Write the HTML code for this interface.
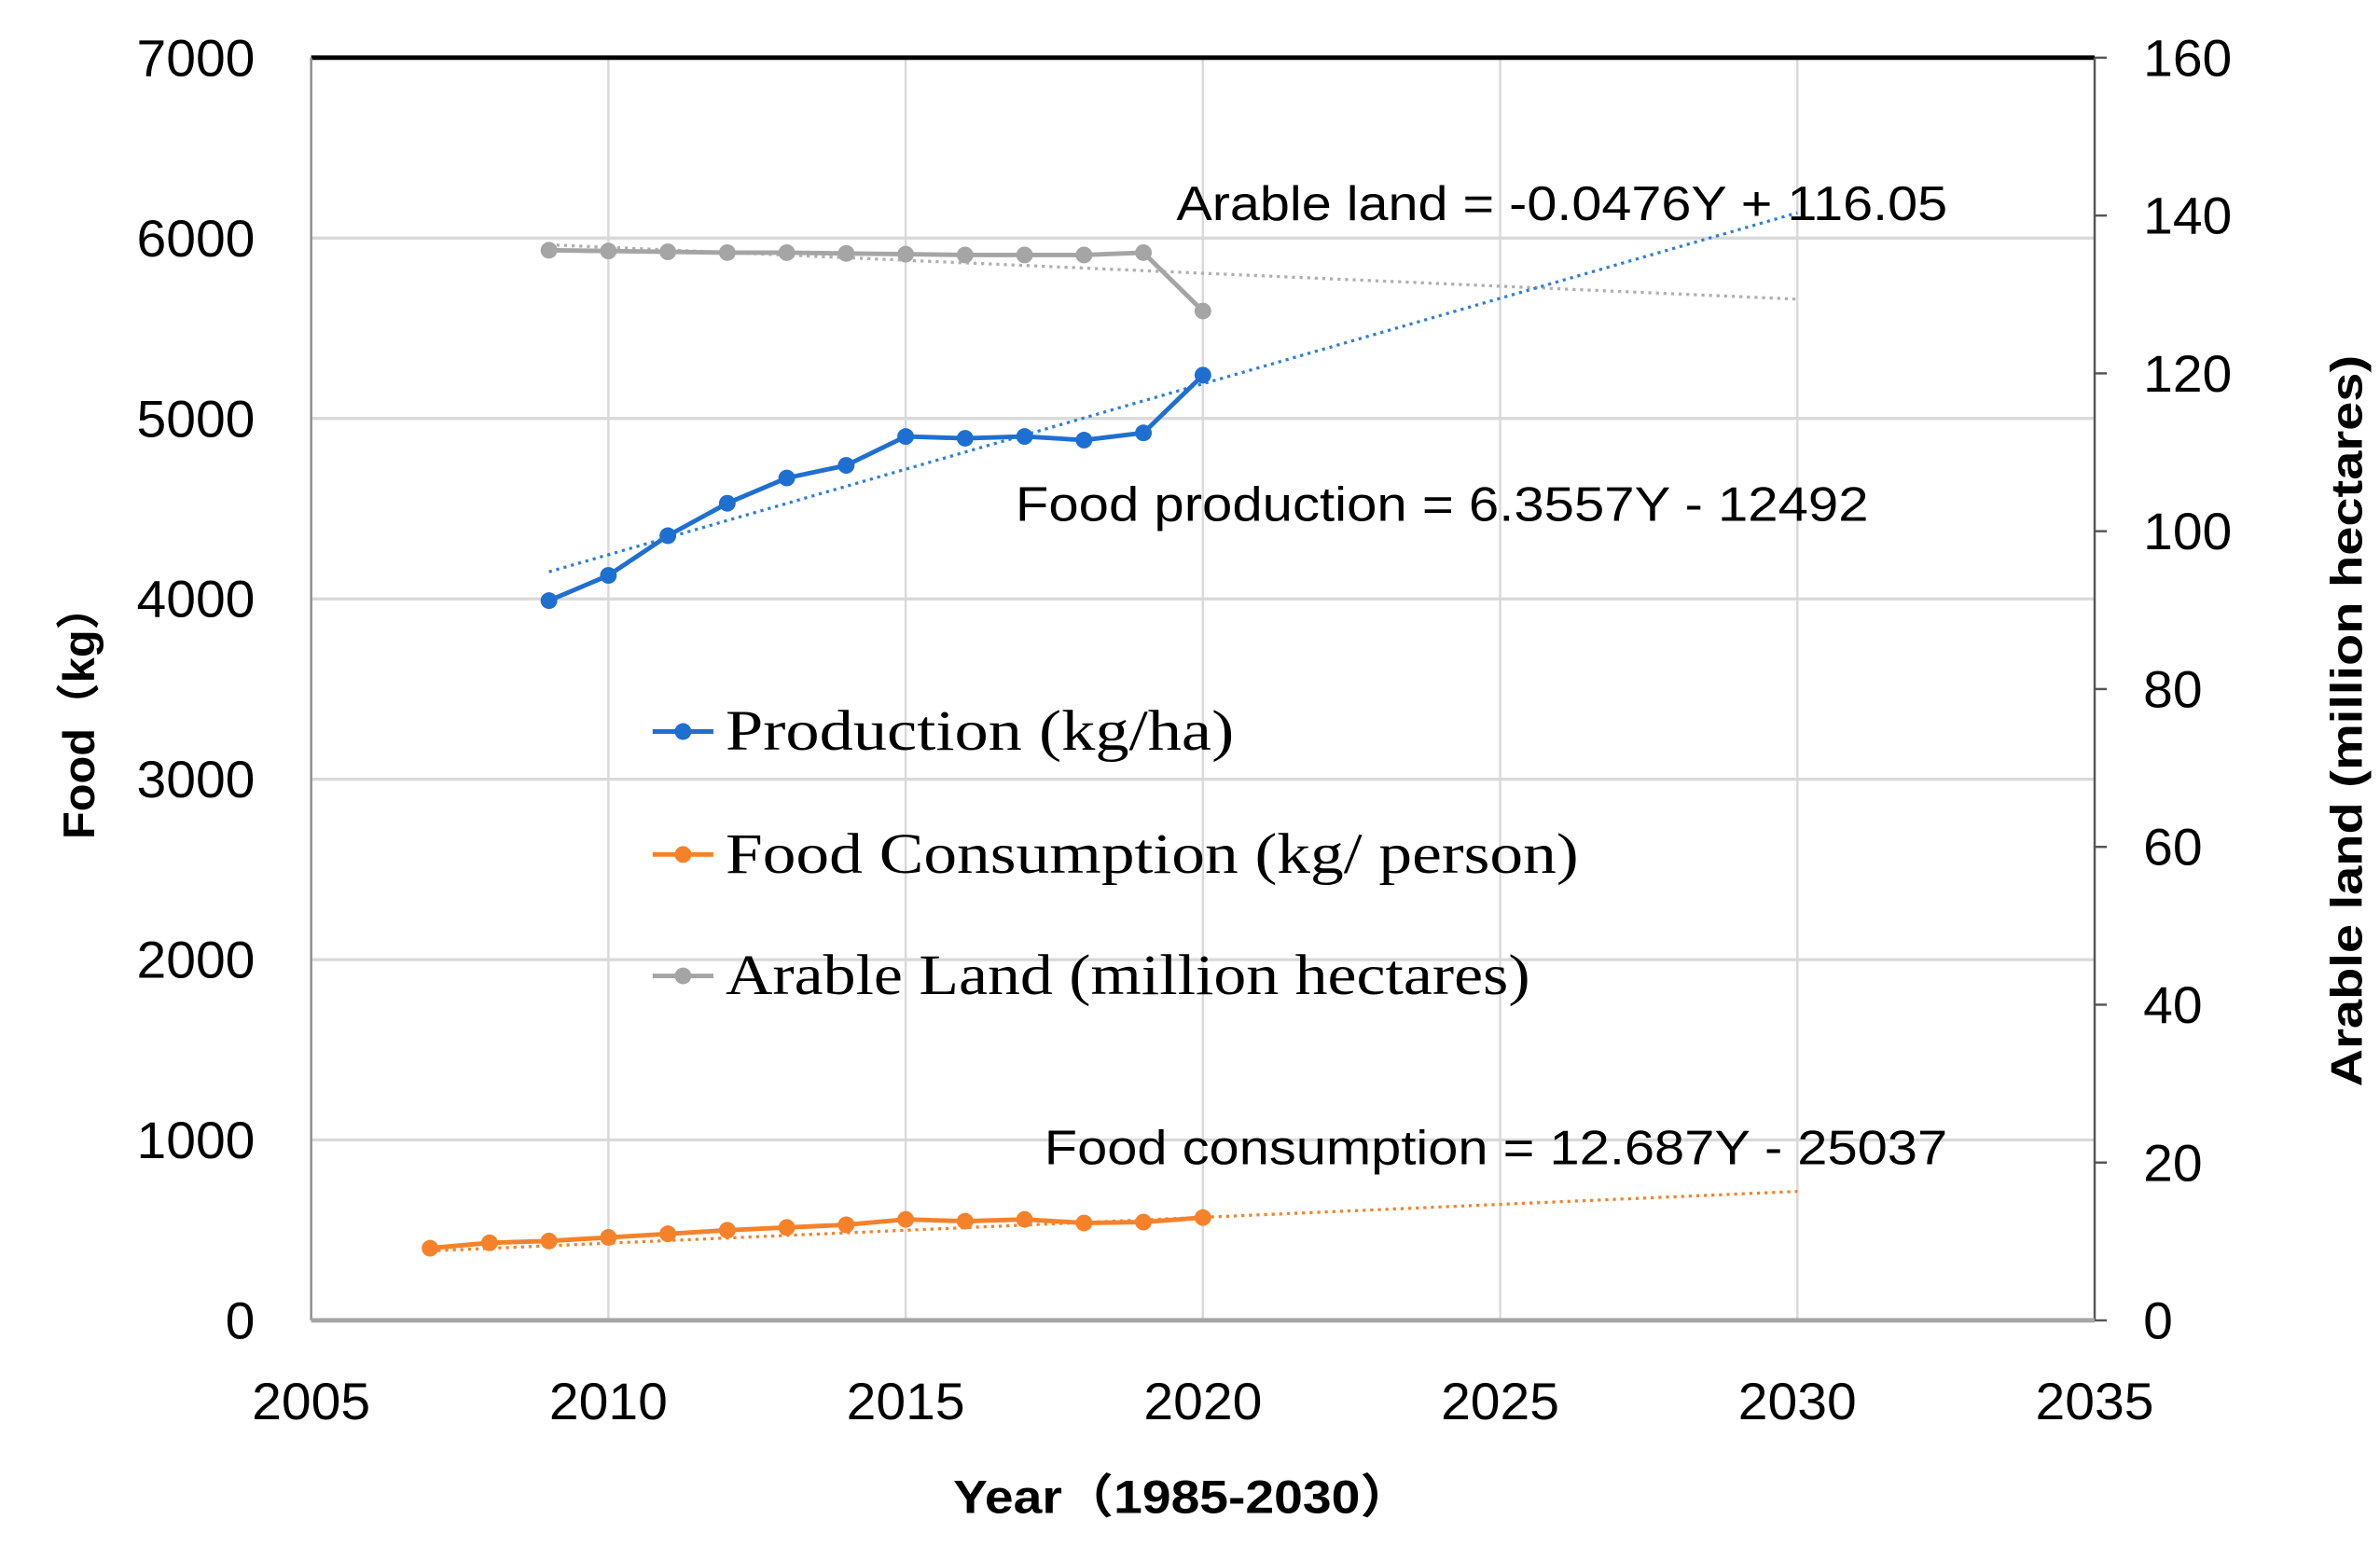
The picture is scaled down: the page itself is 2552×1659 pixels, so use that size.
<!DOCTYPE html>
<html><head><meta charset="utf-8"><style>
html,body{margin:0;padding:0;background:#fff;}
svg{display:block;}
</style></head><body>
<svg id="chart" width="2552" height="1659" viewBox="0 0 1568 1019.3" xmlns="http://www.w3.org/2000/svg"></svg>
<script>
const xTicks = [2005, 2010, 2015, 2020, 2025, 2030, 2035];
const yLeftTicks = [0, 1000, 2000, 3000, 4000, 5000, 6000, 7000];
const yRightTicks = [0, 20, 40, 60, 80, 100, 120, 140, 160];
const prodYears = [2009,2010,2011,2012,2013,2014,2015,2016,2017,2018,2019,2020];
const prodValues = [3990,4130,4350,4530,4670,4740,4900,4890,4900,4880,4920,5240];
const consYears = [2007,2008,2009,2010,2011,2012,2013,2014,2015,2016,2017,2018,2019,2020];
const consValues = [400,430,440,460,480,500,515,530,560,550,560,540,545,570];
const landYears = [2009,2010,2011,2012,2013,2014,2015,2016,2017,2018,2019,2020];
const landValues = [135.6,135.5,135.4,135.3,135.3,135.2,135.1,135.0,135.0,135.0,135.3,127.9];
const prodTrendYears = [2009, 2030];
const prodTrendValues = [4150, 6140];
const consTrendYears = [2007, 2030];
const consTrendValues = [385, 715];
const landTrendYears = [2009, 2030];
const landTrendValues = [136.3, 129.4];

const L=205,R=1380,T=38,B=870;
const xs = v => L + (v-2005)/30*(R-L);
const yl = v => B - v/7000*(B-T);
const yr = v => B - v/160*(B-T);
const svg = document.getElementById('chart');
const NS='http://www.w3.org/2000/svg';
function mk(tag, attrs, parent){const e=document.createElementNS(NS,tag);for(const k in attrs)e.setAttribute(k,attrs[k]);(parent||svg).appendChild(e);return e;}
const F='"Liberation Sans", "Noto Sans CJK SC", sans-serif';

xTicks.forEach(t=>{ if(t===2005||t===2035) return;
  const g=mk('line',{x1:xs(t),x2:xs(t),y1:T,y2:B,stroke:'#d9d9d9','stroke-width':1.5});
  
  
});
yLeftTicks.forEach(t=>{ if(t===0||t===7000) return;
  const g=mk('line',{x1:L,x2:R,y1:yl(t),y2:yl(t),stroke:'#d9d9d9','stroke-width':2});
  
  
});
let a=mk('line',{x1:L,x2:R,y1:T,y2:T,stroke:'#000','stroke-width':3});


a=mk('line',{x1:L,x2:L,y1:T,y2:B,stroke:'#8c8c8c','stroke-width':1.5});


a=mk('line',{x1:R,x2:R,y1:T,y2:B,stroke:'#555','stroke-width':1.5});


a=mk('line',{x1:L,x2:R,y1:B,y2:B,stroke:'#a6a6a6','stroke-width':3});


for(let i=0;i<yRightTicks.length;i++){const t=mk('line',{x1:R,x2:R+8,y1:yr(yRightTicks[i]),y2:yr(yRightTicks[i]),stroke:'#555','stroke-width':1.5});
  
  }

function fit(e,txt,w){e.textContent=txt;e.setAttribute('textLength',w);e.setAttribute('lengthAdjust','spacingAndGlyphs');}
xTicks.forEach(t=>{const e=mk('text',{x:xs(t),y:935,'text-anchor':'middle','font-family':F,'font-size':34,fill:'#000'});fit(e,String(t),78);
  
  });
yLeftTicks.forEach(t=>{const e=mk('text',{x:168,y:yl(t)+12,'text-anchor':'end','font-family':F,'font-size':34,fill:'#000'});fit(e,String(t),String(t).length*19.5);
  
  });
yRightTicks.forEach(t=>{const e=mk('text',{x:1412,y:yr(t)+12,'text-anchor':'start','font-family':F,'font-size':34,fill:'#000'});fit(e,String(t),String(t).length*19.5);
  
  });

let tt=mk('text',{x:628,y:997,'font-family':F,'font-size':31,'font-weight':'bold'});fit(tt,'Year（1985-2030）',302);


tt=mk('text',{x:0,y:0,'font-family':F,'font-size':29,'font-weight':'bold',transform:'translate(62,553) rotate(-90)'});fit(tt,'Food（kg）',168);


tt=mk('text',{x:0,y:0,'font-family':F,'font-size':29,'font-weight':'bold',transform:'translate(1556,716) rotate(-90)'});fit(tt,'Arable land (million hectares)',482);



function trend(years, vals, yf, color, name){
  const l=mk('line',{x1:xs(years[0]),y1:yf(vals[0]),x2:xs(years[1]),y2:yf(vals[1]),stroke:color,'stroke-width':2,'stroke-dasharray':'2 3'});
  
  
}
trend(landTrendYears,landTrendValues,yr,'#b0b0b0','arable-trendline');
trend(prodTrendYears,prodTrendValues,yl,'#2f7ed8','production-trendline');
trend(consTrendYears,consTrendValues,yl,'#f5822a','consumption-trendline');

function series(years, vals, yf, color, name){
  const pts=years.map((y,i)=>[xs(y),yf(vals[i])]);
  const p=mk('polyline',{points:pts.map(p=>p.join(',')).join(' '),fill:'none',stroke:color,'stroke-width':3,'stroke-linejoin':'round'});
  
  
  pts.forEach(pt=>{const c=mk('circle',{cx:pt[0],cy:pt[1],r:5.5,fill:color});
    
    });
}
series(landYears,landValues,yr,'#a5a5a5','arable-land');
series(prodYears,prodValues,yl,'#1f6fd1','production');
series(consYears,consValues,yl,'#f5822a','consumption');

function label(x,y,txt,w,name){const e=mk('text',{x:x,y:y,'font-family':F,'font-size':32,fill:'#000'});fit(e,txt,w);
  
  }
label(775,145,'Arable land = -0.0476Y + 116.05',508,'arable-equation');
label(669,343,'Food production = 6.3557Y - 12492',562,'production-equation');
label(688,767,'Food consumption = 12.687Y - 25037',595,'consumption-equation');

const legItems=[['Production (kg/ha)',335,'#1f6fd1',482],['Food Consumption (kg/ person)',562,'#f5822a',563],['Arable Land (million hectares)',530,'#a5a5a5',643]];
legItems.forEach(it=>{
  const g=mk('g',{});
  
  
  mk('line',{x1:430,x2:470,y1:it[3],y2:it[3],stroke:it[2],'stroke-width':3},g);
  mk('circle',{cx:450,cy:it[3],r:5.5,fill:it[2]},g);
  const t=mk('text',{x:478,y:it[3]+12,'font-family':'"Liberation Serif", serif','font-size':38,fill:'#000'},g);
  fit(t,it[0],it[1]);
});
</script>
</body></html>
